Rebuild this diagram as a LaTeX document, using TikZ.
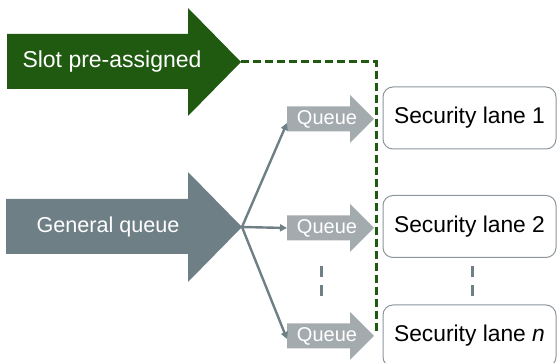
\documentclass[tikz,border=0pt]{standalone}
\usepackage{fontspec}
\setmainfont{Liberation Sans}
\usepackage{tikz}
\usetikzlibrary{arrows.meta}

\definecolor{slotgreen}{RGB}{31,90,16}
\definecolor{genslate}{RGB}{110,127,133}
\definecolor{queuegray}{RGB}{164,171,174}
\definecolor{laneedge}{RGB}{140,150,155}

\tikzset{
  arrowtext/.style={text=white,inner sep=0pt,font=\fontsize{#1}{#1}\selectfont},
  lane/.style={draw=laneedge,line width=1pt,rounded corners=10pt,fill=white,
    minimum width=173pt,minimum height=62pt,inner sep=0pt,
    font=\fontsize{22.8}{26}\selectfont},
  link/.style={genslate,line width=2.4pt,-{Triangle[length=7pt,width=7pt]}},
  gap/.style={genslate,line width=3pt,dash pattern=on 11pt off 8pt}
}

\begin{document}
\begin{tikzpicture}[x=1pt,y=-1pt]
    \useasboundingbox (0,0) rectangle (558,363);

    % Big arrows on the left
    \fill[slotgreen] (7,34) -- (188,34) -- (188,8) -- (241,62) -- (188,116)
        -- (188,89) -- (7,89) -- cycle;
    \node[arrowtext=23] (slot) at (112,62) {Slot pre-assigned};
    \coordinate (slottip) at (241,62);

    \fill[genslate] (6,199) -- (188,199) -- (188,172) -- (242,227) -- (188,282)
        -- (188,254) -- (6,254) -- cycle;
    \node[arrowtext=21.6] (general) at (108,227) {General queue};
    \coordinate (gentip) at (242,227);

    % Small queue arrows
    \foreach \y/\n in {119/1,228/2,336/n} {
        \fill[queuegray] (287,\y-12.5) -- (350,\y-12.5) -- (350,\y-24) -- (374,\y)
            -- (350,\y+24) -- (350,\y+12.5) -- (287,\y+12.5) -- cycle;
        \node[arrowtext=20] (queue\n) at (327,\y) {Queue};
        \coordinate (qin\n) at (287,\y);
    }

    % Security lanes
    \foreach \y/\n/\t in {118/1/1,226.5/2/2,336/n/\textit{n}}
        \node[lane] (lane\n) at (469.5,\y) {Security lane \t};

    % Pre-assigned slot bypass
    \coordinate (bend) at (376,62);
    \coordinate (bypassend) at (376,331);
    \draw[slotgreen,line width=3pt,dash pattern=on 8pt off 4pt]
        (slottip) -- (bend) -- (bypassend);

    % Split of the general queue
    \draw[link] (gentip) -- ([yshift=-4pt]qin1);
    \draw[link] (gentip) -- (qin2);
    \draw[link] (gentip) -- ([yshift=-3pt]qinn);

    % Further lanes left out
    \draw[gap] (321,266) -- (321,296);
    \draw[gap] (472,266) -- (472,296);
\end{tikzpicture}
\end{document}
